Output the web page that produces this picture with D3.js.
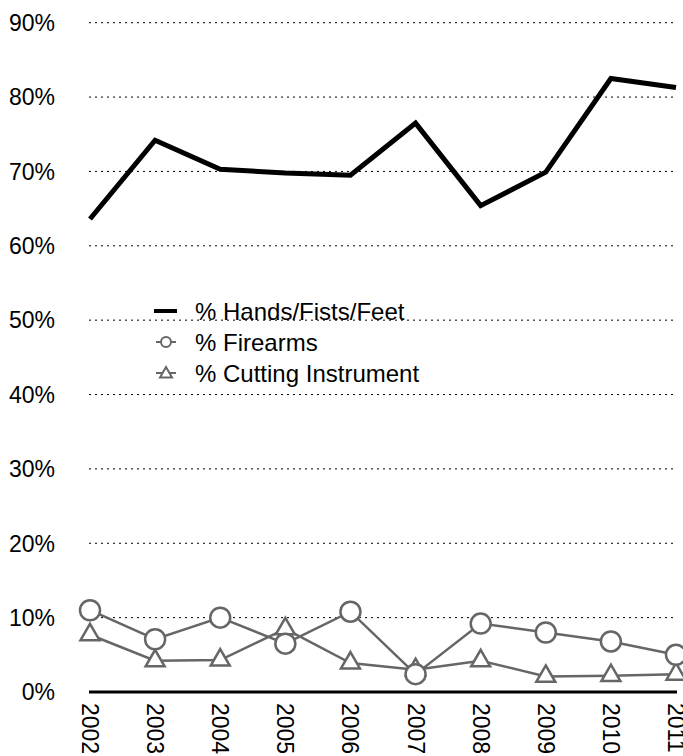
<!DOCTYPE html>
<html>
<head>
<meta charset="utf-8">
<script src="https://cdn.jsdelivr.net/npm/d3@7"></script>
<style>
  body { margin: 0; background: #fff; }
  text { font-family: "Liberation Sans", Arial, sans-serif; fill: #000; }
</style>
</head>
<body>
<div id="chart"></div>
<script>
const years = ["2002", "2003", "2004", "2005", "2006", "2007", "2008", "2009", "2010", "2011"];
const hands = [63.6, 74.2, 70.3, 69.8, 69.5, 76.5, 65.4, 69.9, 82.5, 81.3];
const firearms = [11.0, 7.1, 10.0, 6.5, 10.8, 2.4, 9.2, 8.0, 6.8, 5.0];
const cutting = [7.7, 4.2, 4.3, 8.5, 3.9, 3.0, 4.2, 2.1, 2.2, 2.4];
const yTicks = [0, 10, 20, 30, 40, 50, 60, 70, 80, 90];
const legendLabels = ["% Hands/Fists/Feet", "% Firearms", "% Cutting Instrument"];

const W = 683, H = 756;
const gray = "#666";

let svg = d3.select("#chart").append("svg")
    .attr("width", W)
    .attr("height", H);

let x = d3.scalePoint().domain(years).range([90, 676]);
let y = d3.scaleLinear().domain([0, 90]).range([692, 22.7]);

// gridlines
svg.append("g")
   .selectAll("line")
   .data(yTicks.filter(d => d > 0))
   .join("line")
   .attr("x1", 89)
   .attr("x2", 677)
   .attr("y1", d => y(d))
   .attr("y2", d => y(d))
   .attr("stroke", "#000")
   .attr("stroke-width", 1)
   .attr("stroke-dasharray", "2,4");

// y labels
svg.append("g")
   .selectAll("text")
   .data(yTicks)
   .join("text")
   .attr("x", 55)
   .attr("y", d => y(d))
   .attr("dy", "0.36em")
   .attr("text-anchor", "end")
   .style("font-size", "23px")
   .text(d => d + "%");

// x axis line
svg.append("line")
   .attr("x1", 89).attr("x2", 677)
   .attr("y1", y(0)).attr("y2", y(0))
   .attr("stroke", "#000")
   .attr("stroke-width", 3);

// year labels rotated
svg.append("g")
   .selectAll("text")
   .data(years)
   .join("text")
   .attr("transform", d => `translate(${x(d) - 8},703) rotate(90)`)
   .style("font-size", "23px")
   .text(d => d);

let line = d3.line().x((d, i) => x(years[i])).y(d => y(d));

// hands line
svg.append("path")
   .datum(hands)
   .attr("d", line)
   .attr("fill", "none")
   .attr("stroke", "#000")
   .attr("stroke-width", 5)
   .attr("stroke-linejoin", "miter");

// gray series
let triPath = (s) => {
    const h = s * Math.sqrt(3) / 2;
    return `M0,${-h * 2 / 3}L${s / 2},${h / 3}L${-s / 2},${h / 3}Z`;
};

svg.append("path")
   .datum(cutting)
   .attr("d", line)
   .attr("fill", "none")
   .attr("stroke", gray)
   .attr("stroke-width", 2.5);

svg.append("path")
   .datum(firearms)
   .attr("d", line)
   .attr("fill", "none")
   .attr("stroke", gray)
   .attr("stroke-width", 2.5);

svg.append("g")
   .selectAll("path")
   .data(cutting)
   .join("path")
   .attr("transform", (d, i) => `translate(${x(years[i])},${y(d)})`)
   .attr("d", triPath(19))
   .attr("fill", "#fff")
   .attr("stroke", gray)
   .attr("stroke-width", 2.5);

svg.append("g")
   .selectAll("circle")
   .data(firearms)
   .join("circle")
   .attr("cx", (d, i) => x(years[i]))
   .attr("cy", d => y(d))
   .attr("r", 10)
   .attr("fill", "#fff")
   .attr("stroke", gray)
   .attr("stroke-width", 2.5);

// legend
let legend = svg.append("g").attr("transform", "translate(154,311)");
legendLabels.forEach((lab, i) => {
    let g = legend.append("g").attr("transform", `translate(0,${i * 31})`);
    if (i === 0) {
        g.append("line").attr("x1", 0).attr("x2", 23).attr("y1", 0).attr("y2", 0)
         .attr("stroke", "#000").attr("stroke-width", 4);
    } else {
        g.append("line").attr("x1", 2).attr("x2", 22).attr("y1", 0).attr("y2", 0)
         .attr("stroke", gray).attr("stroke-width", 2);
        if (i === 1) {
            g.append("circle").attr("cx", 12).attr("cy", 0).attr("r", 5)
             .attr("fill", "#fff").attr("stroke", gray).attr("stroke-width", 2);
        } else {
            g.append("path").attr("transform", "translate(12,1)").attr("d", triPath(12))
             .attr("fill", "#fff").attr("stroke", gray).attr("stroke-width", 2);
        }
    }
    g.append("text")
     .attr("x", 41)
     .attr("y", 0)
     .attr("dy", "0.36em")
     .style("font-size", "24px")
     .text(lab);
});
</script>
</body>
</html>
